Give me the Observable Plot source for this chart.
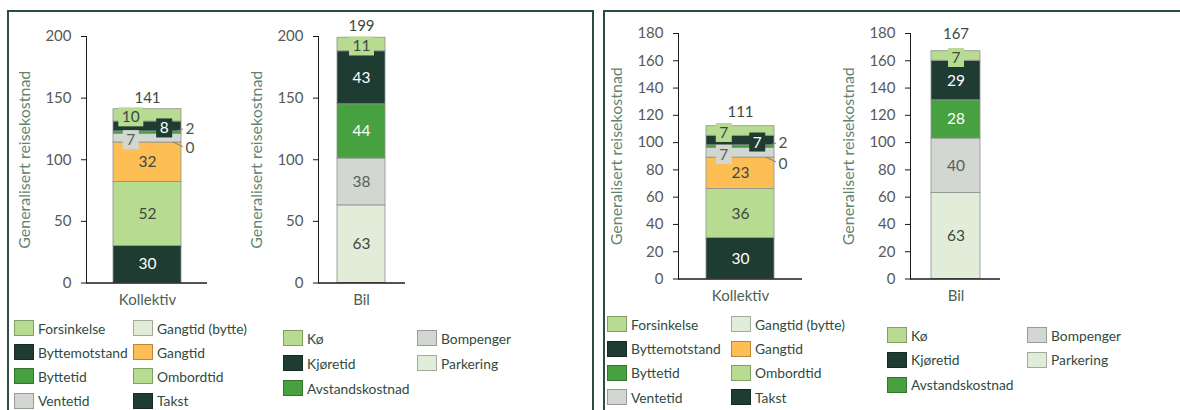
<!DOCTYPE html>
<html><head><meta charset="utf-8">
<script src="https://cdn.jsdelivr.net/npm/d3@7"></script>
<script src="https://cdn.jsdelivr.net/npm/@observablehq/plot@0.6"></script>
<style>
body{margin:0;background:#fff;font-family:Lato,"Noto Sans",sans-serif;}
#root{position:relative;width:1180px;height:410px;overflow:hidden;background:#fff;}
.frame{position:absolute;border:2px solid #2e4d42;box-sizing:border-box;}
.chart{position:absolute;top:0;}
.li{position:absolute;display:flex;align-items:center;white-space:nowrap;font-size:13.8px;color:#2f4b3f;}
.sw{display:inline-block;width:20px;height:16px;border:1px solid rgba(0,0,0,0.28);box-sizing:border-box;margin-right:4px;}
</style></head><body><div id="root"></div>
<script>
// ---- data ----
const modes = ["Kollektiv", "Bil"];
const kollektivParts = ["Takst", "Ombordtid", "Gangtid", "Gangtid (bytte)", "Ventetid", "Byttetid", "Byttemotstand", "Forsinkelse"];
const bilParts = ["Parkering", "Bompenger", "Avstandskostnad", "Kjøretid", "Kø"];
const leftKollektiv = [30, 52, 32, 0, 7, 2, 8, 10];
const leftBil = [63, 38, 44, 43, 11];
const rightKollektiv = [30, 36, 23, 0, 7, 2, 7, 7];
const rightBil = [63, 40, 28, 29, 7];
const leftTotals = [141, 199];
const rightTotals = [111, 167];
const leftTicks = [0, 50, 100, 150, 200];
const rightTicks = [0, 20, 40, 60, 80, 100, 120, 140, 160, 180];
const yTitle = "Generalisert reisekostnad";
const kollektivLegend = [["Forsinkelse", "Byttemotstand", "Byttetid", "Ventetid"], ["Gangtid (bytte)", "Gangtid", "Ombordtid", "Takst"]];
const bilLegend = [["Kø", "Kjøretid", "Avstandskostnad"], ["Bompenger", "Parkering"]];

// ---- styles ----
const DARK = "#1f3c33", LIGHT = "#b7db90", ORANGE = "#fdbf55", MID = "#47a140", GREY = "#d3d7d1", PALE = "#e1ecd9";
const partColor = {"Takst": DARK, "Ombordtid": LIGHT, "Gangtid": ORANGE, "Gangtid (bytte)": PALE, "Ventetid": GREY,
  "Byttetid": MID, "Byttemotstand": DARK, "Forsinkelse": LIGHT, "Parkering": PALE, "Bompenger": GREY,
  "Avstandskostnad": MID, "Kjøretid": DARK, "Kø": LIGHT};
const labelKind = {"Takst": "in", "Ombordtid": "in", "Gangtid": "in", "Gangtid (bytte)": "out", "Ventetid": "boxL",
  "Byttetid": "out", "Byttemotstand": "boxR", "Forsinkelse": "boxL", "Parkering": "in", "Bompenger": "in",
  "Avstandskostnad": "in", "Kjøretid": "in", "Kø": "boxC"};
const outDy = {"Byttetid": -4, "Gangtid (bytte)": 6};
const textColor = p => (partColor[p] === DARK || partColor[p] === MID) ? "#ffffff" : (partColor[p] === GREY ? "#55615b" : "#3b4a43");
const M_LEFT = 86;
const FONT = "Lato, 'Noto Sans', sans-serif";

const root = document.getElementById("root");
function addFrame(left, top, width, height) {
  const f = document.createElement("div"); f.className = "frame";
  Object.assign(f.style, {left: left + "px", top: top + "px", width: width + "px", height: height + "px"});
  root.appendChild(f);
}
addFrame(7, 10, 587, 430);
addFrame(603, 10, 620, 430);

function stackRows(mode, parts, values) {
  let acc = 0;
  return parts.map((p, i) => { const y1 = acc; acc += values[i]; return {mode, part: p, value: values[i], y1, y2: acc, mid: (y1 + acc) / 2}; });
}

function drawChart(cfg) {
  const rows = stackRows(cfg.mode, cfg.parts, cfg.values);
  const rangeW = cfg.width - M_LEFT - cfg.marginRight;
  const bw = rangeW * (1 - cfg.padding) / (1 + cfg.padding);
  const boxDx = bw * 0.245;
  const outDx = bw / 2 + 4;
  const sel = k => rows.filter(r => labelKind[r.part] === k);
  const boxes = [];
  const boxMarks = [];
  ["boxL", "boxR", "boxC"].forEach(k => sel(k).forEach(r => {
    boxes.push(partColor[r.part]);
    boxMarks.push(Plot.text([r], {x: "mode", y: "mid", text: "value", fill: textColor(r.part), fontSize: 15.5,
      dx: k === "boxL" ? -boxDx : k === "boxR" ? boxDx : 0, dy: 2}));
  }));
  const outMarks = sel("out").map(r => Plot.text([r], {x: "mode", y: "mid", text: "value", fill: "#4a5650", fontSize: 15.5,
    textAnchor: "start", dx: outDx, dy: outDy[r.part]}));
  const chart = Plot.plot({
    width: cfg.width, height: 310,
    marginLeft: M_LEFT, marginRight: cfg.marginRight, marginTop: cfg.marginTop, marginBottom: cfg.marginBottom,
    style: {background: "transparent", fontFamily: FONT, fontSize: "15px", overflow: "visible"},
    x: {type: "band", domain: [cfg.mode], padding: cfg.padding},
    y: {domain: [0, cfg.ticks[cfg.ticks.length - 1]]},
    color: {type: "identity"},
    marks: [
      Plot.barY(rows, {x: "mode", y1: "y1", y2: "y2", fill: r => partColor[r.part], stroke: "#8d918e", strokeWidth: 0.8}),
      Plot.frame({anchor: "left", stroke: "#1a1a1a"}),
      Plot.ruleY([0], {stroke: "#1a1a1a", strokeWidth: 1.3}),
      Plot.axisY({ticks: cfg.ticks, tickSize: 5, tickPadding: 10, stroke: "#1a1a1a", fill: "#595959", fontSize: 15, label: null}),
      Plot.axisX({tickSize: 0, tickPadding: 11, fill: "#4b6157", fontSize: 15, label: null}),
      Plot.text([yTitle], {text: d => d, frameAnchor: "left", rotate: -90, textAnchor: "middle", dx: -62, fill: "#5f8571", fontSize: 16}),
      Plot.text(sel("in"), {x: "mode", y: "mid", text: "value", fill: r => textColor(r.part), fontSize: 15.5}),
      Plot.text([{mode: cfg.mode, total: cfg.total}], {x: "mode", y: "total", text: "total", dy: cfg.totalDy, fill: "#3b4a43", fontSize: 15}),
      ...outMarks,
      ...boxMarks
    ]
  });
  const holder = document.createElement("div"); holder.className = "chart";
  holder.style.left = cfg.left + "px"; holder.style.width = cfg.width + "px";
  holder.appendChild(chart); root.appendChild(holder);

  // callout boxes behind the box labels (the box text marks are the last text groups)
  const textGroups = Array.from(chart.querySelectorAll(":scope > g")).filter(g => g.querySelector(":scope > text") && g.getAttribute("aria-label") === "text");
  const boxGroups = textGroups.slice(textGroups.length - boxes.length);
  boxGroups.forEach((g, i) => {
    g.querySelectorAll(":scope > text").forEach(t => {
      const b = t.getBBox();
      const rect = document.createElementNS("http://www.w3.org/2000/svg", "rect");
      rect.setAttribute("x", b.x - 3.5); rect.setAttribute("y", b.y);
      rect.setAttribute("width", b.width + 7); rect.setAttribute("height", b.height + 1);
      rect.setAttribute("fill", boxes[i]);
      if (t.getAttribute("transform")) rect.setAttribute("transform", t.getAttribute("transform"));
      g.insertBefore(rect, t);
    });
  });
  // leader lines for the outside labels
  const xs = chart.scale("x"), ys = chart.scale("y");
  const xRight = xs.apply(cfg.mode) + xs.bandwidth;
  const svg = d3.select(chart);
  sel("out").forEach(r => {
    svg.append("line")
      .attr("x1", xRight - 8).attr("y1", ys.apply(r.mid))
      .attr("x2", xRight + 2).attr("y2", ys.apply(r.mid) + outDy[r.part] * 0.8)
      .attr("stroke", "#7a7f7c").attr("stroke-width", 1);
  });
}

drawChart({mode: modes[0], parts: kollektivParts, values: leftKollektiv, total: leftTotals[0], ticks: leftTicks,
  left: 0, width: 230, marginRight: 23, marginTop: 36, marginBottom: 27.5, padding: 0.28, totalDy: -11.5});
drawChart({mode: modes[1], parts: bilParts, values: leftBil, total: leftTotals[1], ticks: leftTicks,
  left: 232, width: 193, marginRight: 20, marginTop: 36, marginBottom: 27.5, padding: 0.28, totalDy: -12});
drawChart({mode: modes[0], parts: kollektivParts, values: rightKollektiv, total: rightTotals[0], ticks: rightTicks,
  left: 592, width: 230, marginRight: 20, marginTop: 33, marginBottom: 31.5, padding: 0.29, totalDy: -15.5});
drawChart({mode: modes[1], parts: bilParts, values: rightBil, total: rightTotals[1], ticks: rightTicks,
  left: 824, width: 196, marginRight: 20, marginTop: 33, marginBottom: 31.5, padding: 0.29, totalDy: -17});

function drawLegend(cols, left, top, colW, rowH) {
  cols.forEach((col, ci) => col.forEach((name, ri) => {
    const d = document.createElement("div"); d.className = "li";
    d.style.left = (left + ci * colW) + "px"; d.style.top = (top + ri * rowH) + "px"; d.style.height = rowH + "px";
    const sw = document.createElement("span"); sw.className = "sw"; sw.style.background = partColor[name];
    const tx = document.createElement("span"); tx.textContent = name;
    d.appendChild(sw); d.appendChild(tx); root.appendChild(d);
  }));
}
drawLegend(kollektivLegend, 14, 316, 119, 24.2);
drawLegend(bilLegend, 283, 325.5, 134, 25);
drawLegend(kollektivLegend, 607, 312, 124, 24.4);
drawLegend(bilLegend, 887, 322.7, 140, 24.8);
</script></body></html>
